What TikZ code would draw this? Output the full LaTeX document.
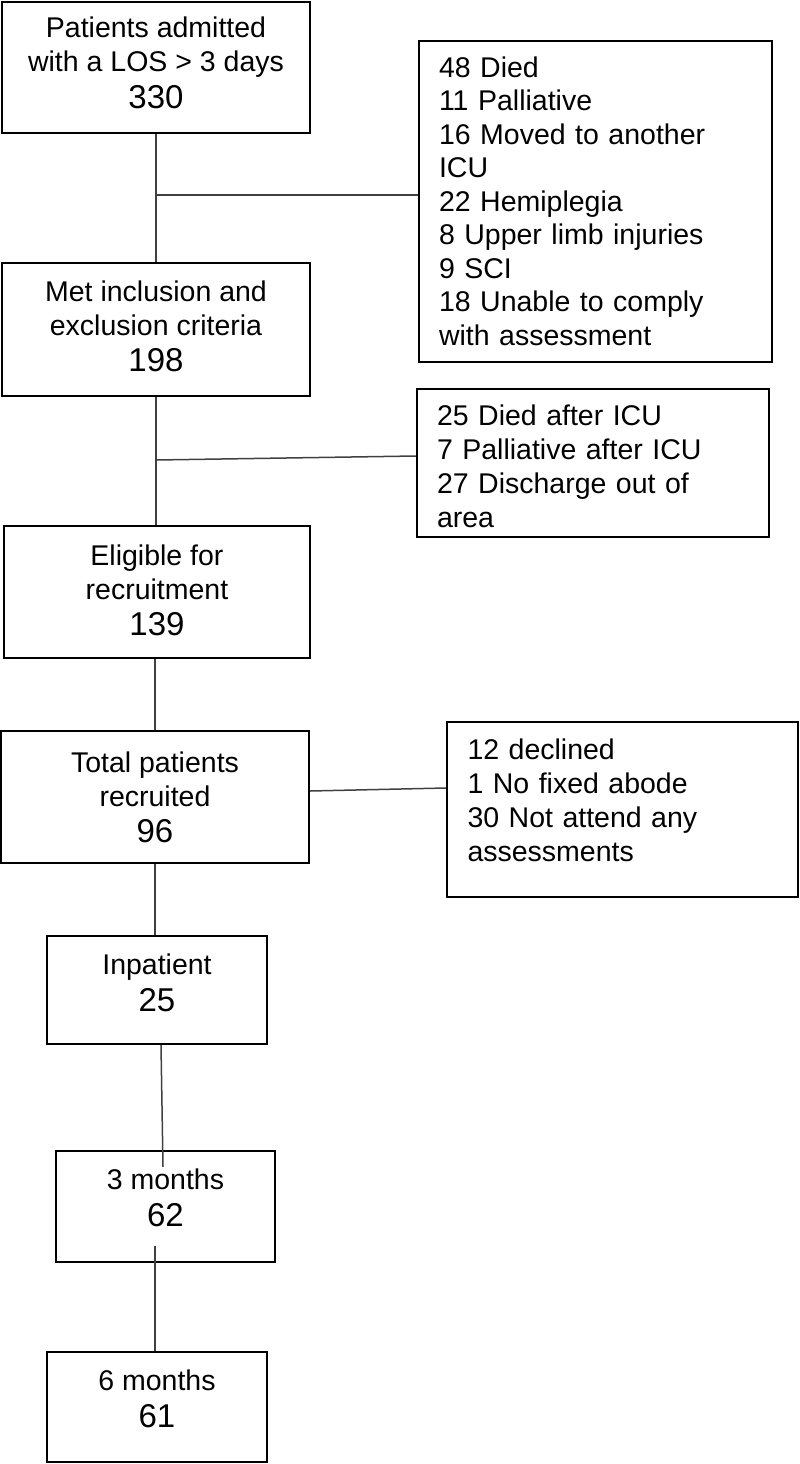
\documentclass[tikz,border=0pt]{standalone}
\usepackage{fontspec}
\setmainfont{Liberation Sans}
\newcommand\bxtext{\fontsize{28.5}{34}\selectfont}
\newcommand\bxnum{\fontsize{33}{37}\selectfont}
\begin{document}
\begin{tikzpicture}[x=1pt,y=-1pt,
  box/.style={draw=black, line width=2.2pt, inner sep=0pt, align=center, font=\bxtext},
  side/.style={draw=black, line width=2.2pt, inner xsep=20pt, inner ysep=0pt, align=left, font=\bxtext},
  conn/.style={line width=1.5pt, draw=black!75}]
\useasboundingbox (0,0) rectangle (800,1464);
% main column
\node[box, minimum width=308pt, minimum height=131pt] (b1) at (156,67.5)
  {Patients admitted\\with a LOS > 3 days\\[3pt]{\bxnum 330}\rule[-9pt]{0pt}{9pt}};
\node[box, minimum width=308pt, minimum height=133pt] (b2) at (156,329.5)
  {Met inclusion and\\exclusion criteria\\[2pt]{\bxnum 198}\rule[-6pt]{0pt}{6pt}};
\node[box, minimum width=306pt, minimum height=132pt] (b3) at (157,592)
  {Eligible for\\recruitment\\[2pt]{\bxnum 139}\rule[-4pt]{0pt}{4pt}};
\node[box, minimum width=308pt, minimum height=132pt] (b4) at (155,797)
  {Total patients\\recruited\\[2pt]{\bxnum 96}};
\node[box, minimum width=220pt, minimum height=108pt] (b5) at (157,990)
  {Inpatient\\[3pt]{\bxnum 25}\rule[-14pt]{0pt}{14pt}};
\node[box, minimum width=219pt, minimum height=111pt] (b6) at (165.5,1206.5)
  {3 months\\[3pt]{\bxnum 62}\rule[-18pt]{0pt}{18pt}};
\node[box, minimum width=220pt, minimum height=110pt] (b7) at (157,1407)
  {6 months\\[3pt]{\bxnum 61}\rule[-16pt]{0pt}{16pt}};
% side boxes
\node[side, text width=313pt, minimum height=321pt] (s1) at (595.5,201.5)
  {\fontsize{28.5}{33.5}\selectfont 48 Died\\11 Palliative\\16 Moved to another\\ICU\\22 Hemiplegia\\8 Upper limb injuries\\9 SCI\\18 Unable to comply\\with assessment};
\node[side, text width=312pt, minimum height=148pt] (s2) at (593,463)
  {\rule{0pt}{27pt}25 Died after ICU\\7 Palliative after ICU\\27 Discharge out of\\area};
\node[side, text width=310pt, inner xsep=20.5pt, minimum height=175pt] (s3) at (622.5,809.5)
  {12 declined\\1 No fixed abode\\30 Not attend any\\assessments\rule[-18pt]{0pt}{18pt}};
% connectors
\coordinate (j1) at (b1.south |- 0,195);
\coordinate (j2) at (b2.south |- 0,460);
\draw[conn] (b1.south) -- (b2.north);
\draw[conn] (j1) -- ([yshift=6.5pt]s1.west);
\draw[conn] (b2.south) -- (b3.north -| b2.south);
\draw[conn] (j2) -- ([yshift=7pt]s2.west);
\draw[conn] ([xshift=-2pt]b3.south) -- (b4.north);
\draw[conn] ([yshift=6pt]b4.east) -- ([yshift=21.5pt]s3.west);
\draw[conn] (b4.south) -- (b4.south |- b5.north);
\draw[conn] ([xshift=4pt]b5.south) -- ([xshift=-2.5pt,yshift=-17pt]b6.north);
\draw[conn] ([xshift=-10.5pt,yshift=17pt]b6.south) -- ([xshift=-2pt]b7.north);
\end{tikzpicture}
\end{document}
